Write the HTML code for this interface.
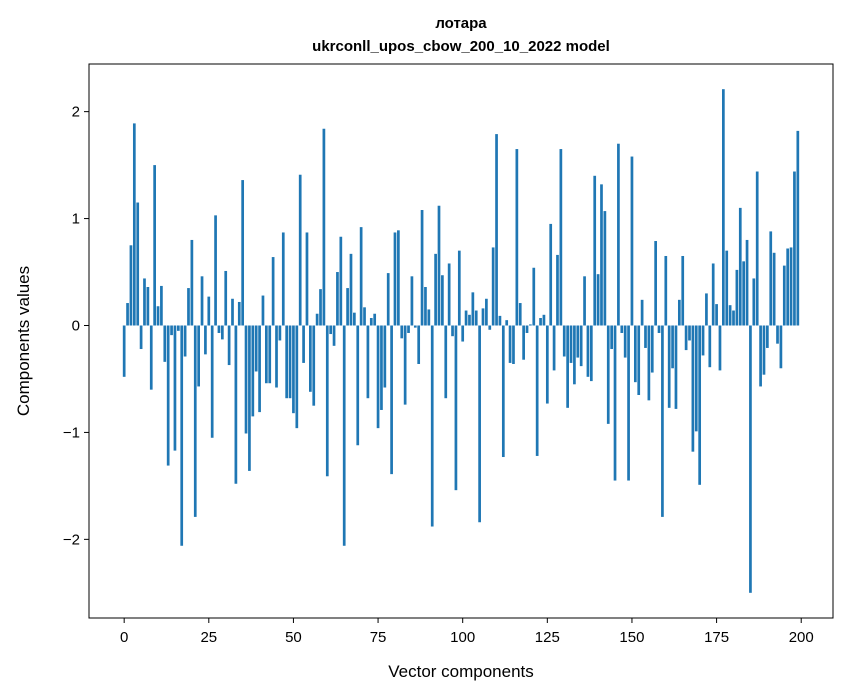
<!DOCTYPE html>
<html><head><meta charset="utf-8"><style>
body{margin:0;background:#fff;}
svg{display:block;font-family:"Liberation Sans","DejaVu Sans",sans-serif;}
</style></head><body>
<svg id="chart" width="847" height="696" xmlns="http://www.w3.org/2000/svg">
<rect width="847" height="696" fill="#fff"/>
<text x="461" y="28" text-anchor="middle" font-size="15" font-weight="bold">лотара</text>
<text x="461" y="51" text-anchor="middle" font-size="15" font-weight="bold">ukrconll_upos_cbow_200_10_2022 model</text>
<g id="bars"></g>
<g id="ticks"></g>
<rect x="89" y="64" width="744" height="554" fill="none" stroke="#000" stroke-width="1"/>
<text x="461" y="677" text-anchor="middle" font-size="17">Vector components</text>
<text transform="translate(29,341) rotate(-90)" text-anchor="middle" font-size="17">Components values</text>
</svg>
<script>
const values = [
-0.48,0.21,0.75,1.89,1.15,-0.22,0.44,0.36,-0.60,1.50,
0.18,0.37,-0.34,-1.31,-0.09,-1.17,-0.05,-2.06,-0.29,0.35,
0.80,-1.79,-0.57,0.46,-0.27,0.27,-1.05,1.03,-0.07,-0.13,
0.51,-0.37,0.25,-1.48,0.22,1.36,-1.01,-1.36,-0.85,-0.43,
-0.81,0.28,-0.54,-0.54,0.64,-0.58,-0.14,0.87,-0.68,-0.68,
-0.82,-0.96,1.41,-0.35,0.87,-0.62,-0.75,0.11,0.34,1.84,
-1.41,-0.08,-0.19,0.50,0.83,-2.06,0.35,0.67,0.12,-1.12,
0.92,0.17,-0.68,0.07,0.11,-0.96,-0.79,-0.58,0.49,-1.39,
0.87,0.89,-0.12,-0.74,-0.07,0.46,-0.02,-0.36,1.08,0.36,
0.15,-1.88,0.67,1.12,0.47,-0.68,0.58,-0.10,-1.54,0.70,
-0.15,0.14,0.10,0.31,0.14,-1.84,0.16,0.25,-0.04,0.73,
1.79,0.09,-1.23,0.05,-0.35,-0.36,1.65,0.21,-0.32,-0.07,
0.01,0.54,-1.22,0.07,0.10,-0.73,0.95,-0.42,0.66,1.65,
-0.29,-0.77,-0.35,-0.55,-0.30,-0.38,0.46,-0.48,-0.52,1.40,
0.48,1.32,1.07,-0.92,-0.22,-1.45,1.70,-0.07,-0.30,-1.45,
1.58,-0.53,-0.65,0.24,-0.21,-0.70,-0.44,0.79,-0.07,-1.79,
0.65,-0.77,-0.40,-0.78,0.24,0.65,-0.23,-0.14,-1.18,-0.99,
-1.49,-0.28,0.30,-0.39,0.58,0.20,-0.42,2.21,0.70,0.19,
0.14,0.52,1.10,0.60,0.80,-2.50,0.44,1.44,-0.57,-0.46,
-0.21,0.88,0.68,-0.17,-0.40,0.56,0.72,0.73,1.44,1.82
];
const xTicks = [0,25,50,75,100,125,150,175,200];
const yTicks = [-2,-1,0,1,2];

const L=89,R=833,T=64,B=618,NS="http://www.w3.org/2000/svg";
const n=values.length;
const x0=-0.4, x1=n-1+0.4, xm=(x1-x0)*0.05;
const xMin=x0-xm, xMax=x1+xm;
const vMin=Math.min(0,...values), vMax=Math.max(0,...values), ym=(vMax-vMin)*0.05;
const yMin=vMin-ym, yMax=vMax+ym;
const sx=v=>L+(v-xMin)/(xMax-xMin)*(R-L);
const sy=v=>B-(v-yMin)/(yMax-yMin)*(B-T);
const bars=document.getElementById('bars');
values.forEach((v,i)=>{
  const r=document.createElementNS(NS,'rect');
  const xa=sx(i-0.4), xb=sx(i+0.4);
  r.setAttribute('x',xa);r.setAttribute('width',xb-xa);
  r.setAttribute('y',Math.min(sy(v),sy(0)));r.setAttribute('height',Math.abs(sy(v)-sy(0)));
  r.setAttribute('fill','#1f77b4');
  
  
  bars.appendChild(r);
});
const tk=document.getElementById('ticks');
xTicks.forEach(t=>{
  const l=document.createElementNS(NS,'line');
  l.setAttribute('x1',sx(t));l.setAttribute('x2',sx(t));l.setAttribute('y1',B);l.setAttribute('y2',B+5);l.setAttribute('stroke','#000');
  
  
  tk.appendChild(l);
  const s=document.createElementNS(NS,'text');
  s.setAttribute('x',sx(t));s.setAttribute('y',B+24);s.setAttribute('text-anchor','middle');s.setAttribute('font-size','15');
  s.textContent=String(t);
  
  
  tk.appendChild(s);
});
yTicks.forEach(t=>{
  const l=document.createElementNS(NS,'line');
  l.setAttribute('x1',L-5);l.setAttribute('x2',L);l.setAttribute('y1',sy(t));l.setAttribute('y2',sy(t));l.setAttribute('stroke','#000');
  
  
  tk.appendChild(l);
  const s=document.createElementNS(NS,'text');
  s.setAttribute('x',L-9);s.setAttribute('y',sy(t)+5);s.setAttribute('text-anchor','end');s.setAttribute('font-size','15');
  s.textContent=(t<0?'\u2212'+(-t):String(t));
  
  
  tk.appendChild(s);
});
</script>
</body></html>
